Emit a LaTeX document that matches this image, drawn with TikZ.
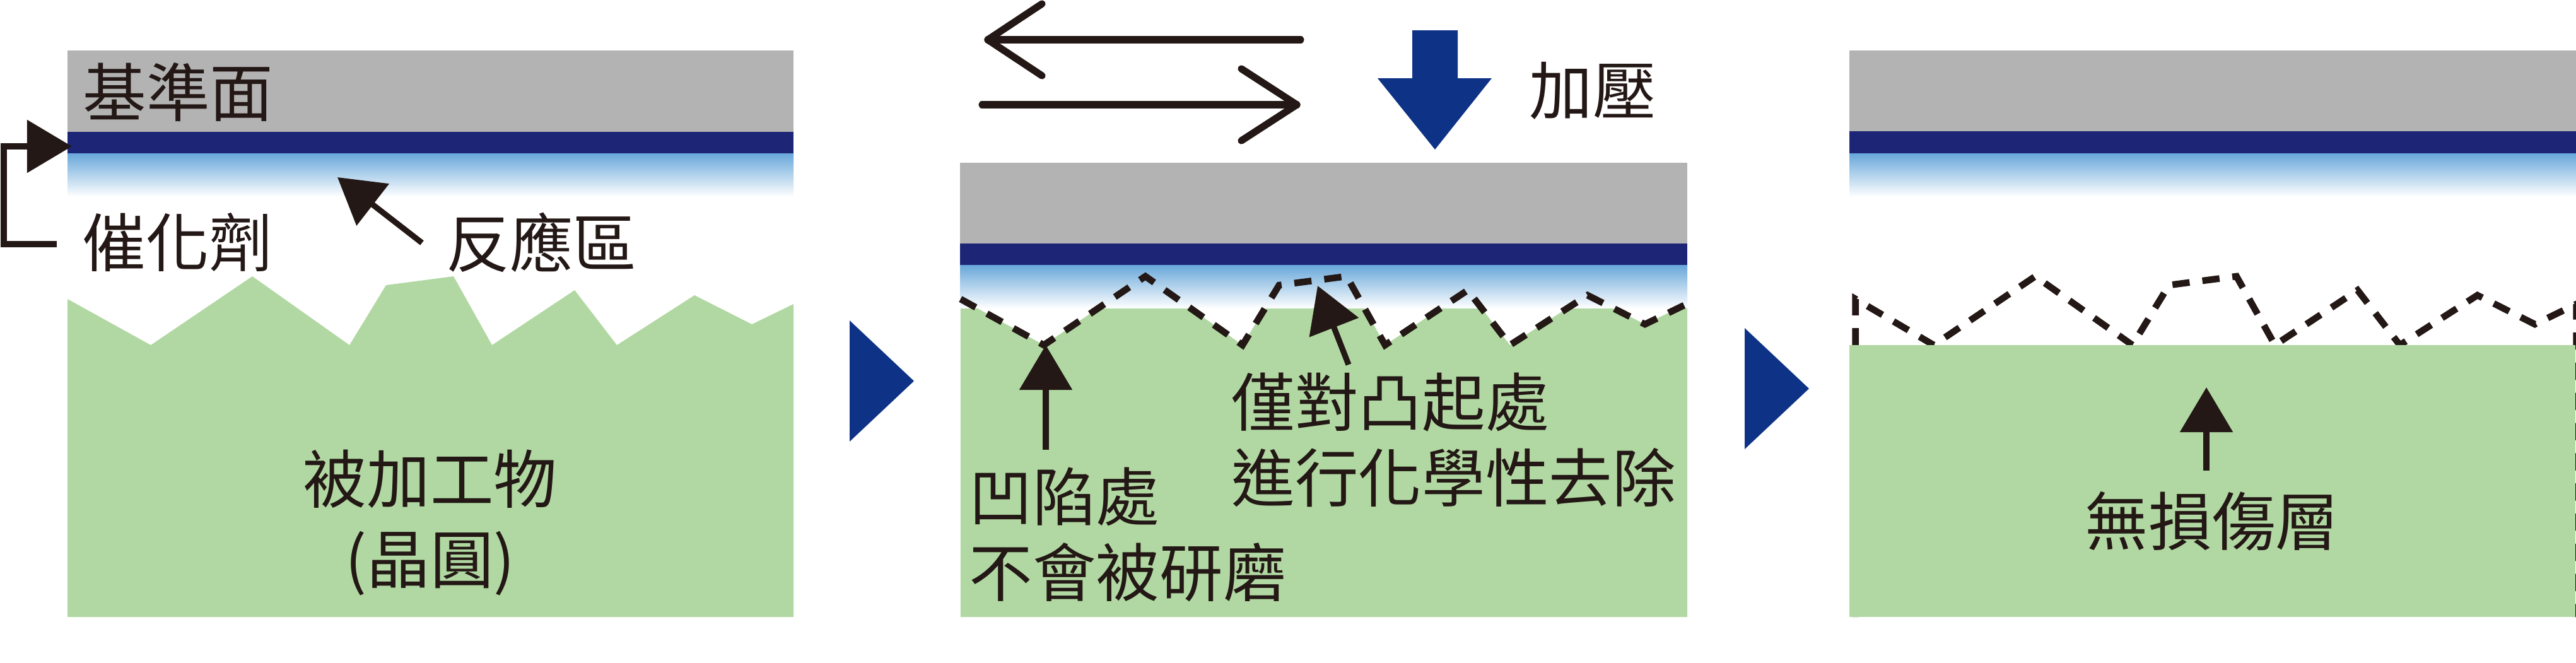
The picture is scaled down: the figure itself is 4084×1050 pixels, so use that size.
\documentclass[tikz,border=0pt]{standalone}
\usepackage{fontspec}
\setmainfont{Noto Sans CJK TC}
\usetikzlibrary{arrows.meta}
\definecolor{inkblack}{HTML}{231815}
\definecolor{platengray}{HTML}{B3B3B3}
\definecolor{catnavy}{HTML}{1D2676}
\definecolor{zoneblue}{HTML}{68A7DA}
\definecolor{wafergreen}{HTML}{B1D8A2}
\definecolor{stepblue}{HTML}{0E3386}
\tikzset{label/.style={text=inkblack,inner sep=0pt,font=\fontsize{28.6pt}{34.1pt}\selectfont},
 callout/.style={draw=inkblack,line width=2.6pt,-{Triangle[length=.71cm,width=.82cm,fill=inkblack]}},
 motion/.style={draw=inkblack,line width=3.2pt,line cap=round,line join=round},
 surface/.style={draw=inkblack,line width=3pt,dash pattern=on 7.8pt off 5.8pt},
 }
\newcommand{\waferedge}{-- (132,547) -- (293,438) -- (447,547) -- (505,452) -- (612,438) -- (673,547) -- (804,460) -- (871,547) -- (994,468) -- (1085,514) -- (1151,482)}

\begin{document}
\begin{tikzpicture}[x=.01cm,y=-.01cm]
        \useasboundingbox (0,0) rectangle (4084,1050);
        % left panel
        \fill[platengray] (107,80) rectangle (1258,209);
        \fill[catnavy] (107,209) rectangle (1258,243);
        \shade[top color=zoneblue,bottom color=white] (107,243) rectangle (1258,312);
        \fill[wafergreen,xshift=1.07cm] (0,474) \waferedge -- (1151,978) -- (0,978) -- cycle;
        \node[label,anchor=west] (datum) at (131,146) {基準面};
        \node[label,anchor=west] (catalyst) at (130,384) {催化劑};
        \node[label,anchor=west] (zone) at (707,384) {反應區};
        \node[label,align=center] (wafer) at (682,829) {被加工物\\[2pt](晶圓)};
        \coordinate (catalysttail) at (90,387);
        \coordinate (catalysttip) at (114,232);
        \draw[callout] (catalysttail) -- (6,387) -- (6,232) -- (catalysttip);
        \coordinate (zonetail) at (669,385);
        \coordinate (zonetip) at (535,281);
        \draw[callout] (zonetail) -- (zonetip);
        % steps between panels
        \fill[stepblue] (1347,508) -- (1449,604) -- (1347,700) -- cycle;
        \fill[stepblue] (2766,520) -- (2868,616) -- (2766,712) -- cycle;
        % middle panel
        \fill[platengray] (1522,258) rectangle (2675,386);
        \fill[catnavy] (1522,386) rectangle (2675,420);
        \shade[top color=zoneblue,bottom color=white] (1522,420) rectangle (2675,489);
        \begin{scope}
            \clip (1522,489) rectangle (2675,978);
            \fill[wafergreen,xshift=15.22cm] (0,474) \waferedge -- (1153,482) -- (1153,978) -- (0,978) -- cycle;
        \end{scope}
        \draw[surface,xshift=15.22cm] (0,474) \waferedge;
        \draw[motion] (2062,63) -- (1566,63);
        \draw[motion] (1652,6) -- (1566,63) -- (1652,120);
        \draw[motion] (1557,166) -- (2056,166);
        \draw[motion] (1968,109) -- (2056,166) -- (1968,223);
        \fill[stepblue] (2239,48) -- (2311,48) -- (2311,124) -- (2365,124) -- (2275,237) -- (2184,124) -- (2239,124) -- cycle;
        \node[label,anchor=west] (press) at (2424,144) {加壓};
        \node[label,anchor=west,align=left] (pit) at (1536,847) {凹陷處\\不會被研磨};
        \node[label,anchor=west,align=left] (bump) at (1952,697) {僅對凸起處\\進行化學性去除};
        \coordinate (pittail) at (1658,713);
        \coordinate (pittip) at (1658,547);
        \draw[callout] (pittail) -- (pittip);
        \coordinate (bumptail) at (2138,578);
        \coordinate (bumptip) at (2089,453);
        \draw[callout] (bumptail) -- (bumptip);
        % right panel
        \fill[platengray] (2932,80) rectangle (4084,208);
        \fill[catnavy] (2932,208) rectangle (4084,243);
        \shade[top color=zoneblue,bottom color=white] (2932,243) rectangle (4084,312);
        \draw[surface,xshift=29.32cm] (8,978) -- (8,474) \waferedge -- (1151,978);
        \fill[wafergreen] (2932,547) rectangle (4083,978);
        \node[label] (nodamage) at (3507,826) {無損傷層};
        \coordinate (nodamagetail) at (3498,746);
        \coordinate (nodamagetip) at (3498,614);
        \draw[callout] (nodamagetail) -- (nodamagetip);
    \end{tikzpicture}
\end{document}
